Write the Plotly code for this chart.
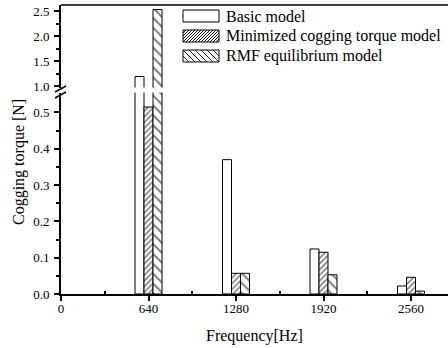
import plotly.graph_objects as go

categories = [640, 1280, 1920, 2560]
basic = [1.19, 0.37, 0.124, 0.022]
minimized = [0.515, 0.057, 0.115, 0.046]
rmf = [2.53, 0.057, 0.053, 0.008]
series_names = ["Basic model", "Minimized cogging torque model", "RMF equilibrium model"]
x_ticks = [0, 640, 1280, 1920, 2560]
y_low_ticks = [0.0, 0.1, 0.2, 0.3, 0.4, 0.5]
y_high_ticks = [1.0, 1.5, 2.0, 2.5]

FONT = 'Liberation Serif, "Times New Roman", Times, "DejaVu Serif", serif'
W, H = 448, 348
ML, MR, MT, MB = 61, 0, 5, 54
plot_w = W - ML - MR
plot_h = H - MT - MB
px_per_hz = 87.5 / 640
x_max = plot_w / px_per_hz
bar_w = 9 / px_per_hz

styles = [
    dict(shape="", size=4, solidity=0.3, gap=0),
    dict(shape="/", size=4, solidity=0.4, gap=3),
    dict(shape="\\", size=7, solidity=0.28, gap=6),
]
offsets = [-1.5 * bar_w, -0.5 * bar_w, 0.5 * bar_w]
values = [basic, minimized, rmf]

fig = go.Figure()
for yax in ["y", "y2"]:
    for name, vals, st, off in zip(series_names, values, styles, offsets):
        fig.add_trace(go.Bar(
            x=categories, y=vals, name=name, width=bar_w, offset=off,
            xaxis="x", yaxis=yax, showlegend=False,
            marker=dict(color="white", line=dict(color="black", width=1),
                        pattern=dict(shape=st["shape"], size=st["size"], solidity=st["solidity"],
                                     fgcolor="black", bgcolor="white")),
        ))

low_top_px = 92.5
high_bot_px = 87.5
low_dom_top = (H - MB - low_top_px) / plot_h
high_dom_bot = (H - MB - high_bot_px) / plot_h

axis_common = dict(showline=True, linecolor="black", linewidth=2, showgrid=False, zeroline=False,
                   ticks="outside", ticklen=5, tickwidth=1.5, tickcolor="black",
                   tickfont=dict(family=FONT, size=13, color="black"))


def px_shape(kind, x0, y0, x1, y1, width=1.0):
    # screen pixel coords (y down) -> pixel offsets from top-left of plot area
    return dict(type=kind, xref="paper", yref="paper", xsizemode="pixel", ysizemode="pixel",
                xanchor=0, yanchor=1, x0=x0 - ML, x1=x1 - ML, y0=-(y0 - MT), y1=-(y1 - MT),
                line=dict(color="black", width=width), fillcolor="rgba(0,0,0,0)")


def hatch_path(x0, y0, x1, y1, direction, gap):
    segs = []
    if direction == "/":
        c = x0 + y0 + gap
        while c < x1 + y1:
            xa, xb = max(x0, c - y1), min(x1, c - y0)
            if xb > xa:
                segs.append(((xa, c - xa), (xb, c - xb)))
            c += gap
    else:
        c = x0 - y1 + gap
        while c < x1 - y0:
            xa, xb = max(x0, y0 + c), min(x1, y1 + c)
            if xb > xa:
                segs.append(((xa, xa - c), (xb, xb - c)))
            c += gap
    d = " ".join(f"M{a[0] - ML:.2f},{-(a[1] - MT):.2f} L{b[0] - ML:.2f},{-(b[1] - MT):.2f}" for a, b in segs)
    return dict(type="path", xref="paper", yref="paper", xsizemode="pixel", ysizemode="pixel",
                xanchor=0, yanchor=1, path=d, line=dict(color="black", width=0.9))


shapes = [
    dict(type="line", xref="paper", yref="paper", x0=0, x1=1, y0=1, y1=1,
         line=dict(color="black", width=1.5)),
    px_shape("line", 55, 92, 66, 86, 1.5),
    px_shape("line", 55, 98, 66, 92, 1.5),
]
annotations = []
leg_rows = [16, 36, 56]
hatch_dirs = ["", "/", "\\"]
for name, cy, hd, st in zip(series_names, leg_rows, hatch_dirs, styles):
    bx0, bx1, by0, by1 = 183, 219, cy - 6, cy + 6
    if hd:
        shapes.append(hatch_path(bx0, by0, bx1, by1, hd, st["gap"]))
    shapes.append(px_shape("rect", bx0, by0, bx1, by1, 1))
    annotations.append(dict(text=name, xref="paper", yref="paper", x=(224 - ML) / plot_w,
                            y=(H - MB - cy) / plot_h, xanchor="left", yanchor="middle",
                            showarrow=False, font=dict(family=FONT, size=16, color="black")))

annotations.append(dict(text="Cogging torque [N]", textangle=-90, xref="paper", yref="paper",
                        x=-(ML - 19) / plot_w, y=(H - MB - 162) / plot_h, xanchor="center",
                        yanchor="middle", showarrow=False,
                        font=dict(family=FONT, size=16, color="black")))
annotations.append(dict(text="Frequency[Hz]", xref="paper", yref="paper", x=0.5,
                        y=(H - MB - 336) / plot_h, xanchor="center", yanchor="middle",
                        showarrow=False, font=dict(family=FONT, size=16, color="black")))

fig.update_layout(
    width=W, height=H, autosize=False,
    margin=dict(l=ML, r=MR, t=MT, b=MB),
    plot_bgcolor="white", paper_bgcolor="white",
    barmode="overlay", showlegend=False, hovermode=False,
    font=dict(family=FONT, color="black"),
    xaxis=dict(range=[0, x_max], tickvals=x_ticks, anchor="y", ticklabelstandoff=-4,
               minor=dict(tickvals=[320, 960, 1600, 2240], ticks="inside", ticklen=3, tickwidth=1.5, tickcolor="black"),
               **axis_common),
    yaxis=dict(domain=[0, low_dom_top], range=[0, 0.555],
               tickvals=y_low_ticks, tickformat=".1f", anchor="x", ticklabelstandoff=2,
               minor=dict(tickvals=[0.05, 0.15, 0.25, 0.35, 0.45], ticks="outside", ticklen=3, tickwidth=1.5, tickcolor="black"),
               **axis_common),
    yaxis2=dict(domain=[high_dom_bot, 1], range=[0.97, 2.62],
                tickvals=y_high_ticks, tickformat=".1f", anchor="x", ticklabelstandoff=2,
                minor=dict(tickvals=[1.25, 1.75, 2.25], ticks="outside", ticklen=3, tickwidth=1.5, tickcolor="black"),
                **axis_common),
    annotations=annotations,
    shapes=shapes,
)

fig.write_html("out.html", config={"displayModeBar": False},
               post_script="document.body.style.margin='0';")
